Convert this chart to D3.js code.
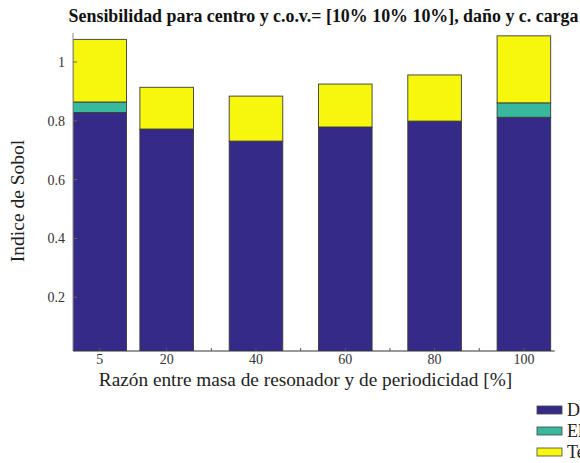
<!DOCTYPE html>
<html>
<head>
<meta charset="utf-8">
<script src="https://cdn.jsdelivr.net/npm/d3@7"></script>
<style>
  html, body { margin: 0; padding: 0; background: #fff; }
  svg { display: block; }
</style>
</head>
<body>
<svg id="chart" width="580" height="463"></svg>
<script>
// Mass ratio of resonator to periodicity [%]
const ratios = [5, 20, 40, 60, 80, 100];
// Stacked Sobol index contributions per ratio
const serieD = [0.828, 0.772, 0.731, 0.779, 0.799, 0.812];
const serieEl = [0.036, 0.0, 0.0, 0.0, 0.0, 0.049];
const serieTe = [0.213, 0.142, 0.153, 0.146, 0.157, 0.228];
const seriesNames = ["Densidad", "Elasticidad", "Tensión"];
const seriesColors = ["#352a87", "#38b89c", "#f6f70c"];
const yTicks = [0.2, 0.4, 0.6, 0.8, 1];
const xMinorTicks = [30, 50, 70, 90];

const FONT = "'Liberation Serif', 'Times New Roman', 'DejaVu Serif', serif";

const svg = d3.select("#chart")
  .attr("font-family", FONT);

const plot = { left: 73, right: 560, top: 33, bottom: 351 };

const x = d3.scaleLinear().domain([5, 100]).range([99.7, 523.9]);
const y = d3.scaleLinear().domain([0, 1.1]).range([356, 32.6]);
const barW = x(12) - x(0);

svg.append("defs").append("clipPath").attr("id", "plotClip")
  .append("rect")
  .attr("x", plot.left).attr("y", plot.top - 5)
  .attr("width", plot.right - plot.left + 20)
  .attr("height", plot.bottom - plot.top + 5);

// Build stacked data
const table = ratios.map((r, i) => ({ ratio: r, D: serieD[i], El: serieEl[i], Te: serieTe[i] }));
const keys = ["D", "El", "Te"];
const stacked = d3.stack().keys(keys)(table);

const gBars = svg.append("g").attr("clip-path", "url(#plotClip)");
gBars.selectAll("g.layer")
  .data(stacked)
  .join("g")
  .attr("class", "layer")
  .attr("fill", (d, i) => seriesColors[i])
  .selectAll("rect")
  .data(d => d)
  .join("rect")
  .attr("x", d => x(d.data.ratio) - barW / 2)
  .attr("width", barW)
  .attr("y", d => y(d[1]))
  .attr("height", d => Math.max(0, y(d[0]) - y(d[1])))
  .attr("stroke", "#3a3a3a")
  .attr("stroke-width", 0.9);

// Y axis spine
svg.append("line")
  .attr("x1", plot.left).attr("x2", plot.left)
  .attr("y1", plot.top).attr("y2", plot.bottom)
  .attr("stroke", "#8a8a8a").attr("stroke-width", 1);

// Y ticks (inward) and labels
const gy = svg.append("g");
gy.selectAll("line.tick").data(yTicks).join("line")
  .attr("x1", plot.left).attr("x2", plot.left + 4)
  .attr("y1", d => y(d)).attr("y2", d => y(d))
  .attr("stroke", "#6a6a50").attr("stroke-width", 1);
gy.selectAll("text").data(yTicks).join("text")
  .attr("x", plot.left - 8).attr("y", d => y(d))
  .attr("dy", "0.35em")
  .attr("text-anchor", "end")
  .attr("font-size", 14)
  .attr("fill", "#333")
  .text(d => d3.format("~g")(d));

// X axis baseline
svg.append("line")
  .attr("x1", plot.left).attr("x2", x(100) + barW / 2 + 4)
  .attr("y1", plot.bottom).attr("y2", plot.bottom)
  .attr("stroke", "#333").attr("stroke-width", 1.2);

// X ticks (inward)
const gx = svg.append("g");
gx.selectAll("line.tick").data(ratios.concat(xMinorTicks)).join("line")
  .attr("x1", d => x(d)).attr("x2", d => x(d))
  .attr("y1", plot.bottom).attr("y2", plot.bottom - 3)
  .attr("stroke", "#555").attr("stroke-width", 1);
gx.selectAll("text").data(ratios).join("text")
  .attr("x", d => x(d)).attr("y", plot.bottom + 13)
  .attr("text-anchor", "middle")
  .attr("font-size", 14)
  .attr("fill", "#333")
  .text(d => d);

// Axis titles
svg.append("text")
  .attr("x", 305.5).attr("y", 386)
  .attr("text-anchor", "middle")
  .attr("font-size", 19.3)
  .attr("fill", "#222")
  .text("Razón entre masa de resonador y de periodicidad [%]");

svg.append("text")
  .attr("transform", "translate(24,201) rotate(-90)")
  .attr("text-anchor", "middle")
  .attr("font-size", 19.5)
  .attr("fill", "#222")
  .text("Indice de Sobol");

// Title
svg.append("text")
  .attr("x", 323.5).attr("y", 22)
  .attr("text-anchor", "middle")
  .attr("font-size", 17.9)
  .attr("font-weight", "bold")
  .attr("fill", "#111")
  .text("Sensibilidad para centro y c.o.v.= [10% 10% 10%], daño y c. carga");

// Legend
const legend = svg.append("g").attr("transform", "translate(537,406)");
const lg = legend.selectAll("g").data(seriesNames).join("g")
  .attr("transform", (d, i) => `translate(0,${i * 21})`);
lg.append("rect")
  .attr("width", 25).attr("height", 8)
  .attr("fill", (d, i) => seriesColors[i])
  .attr("stroke", "#444").attr("stroke-width", 0.8);
lg.append("text")
  .attr("x", 30).attr("y", 4).attr("dy", "0.35em")
  .attr("font-size", 18)
  .attr("fill", "#222")
  .text(d => d);
</script>
</body>
</html>
